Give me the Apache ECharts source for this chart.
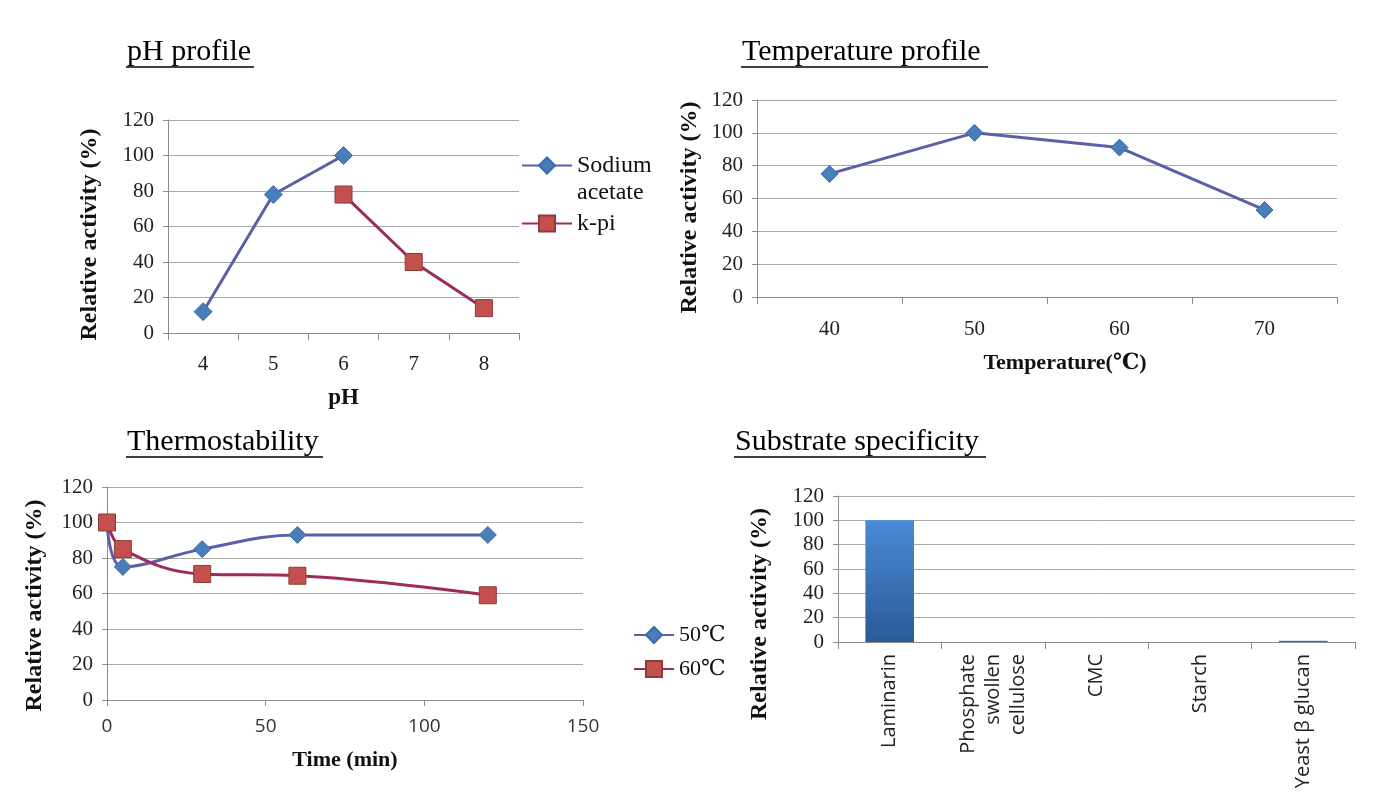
<!DOCTYPE html>
<html>
<head>
<meta charset="utf-8">
<script src="https://cdn.jsdelivr.net/npm/echarts@6/dist/echarts.min.js"></script>
<style>
  html, body { margin: 0; padding: 0; background: #fff; }
  #main { width: 1390px; height: 809px; }
</style>
</head>
<body>
<div id="main"></div>
<script>
// pH profile
var phCategories = ['4', '5', '6', '7', '8'];
var sodiumAcetate = [12, 78, 100, null, null];
var kPi = [null, null, 78, 40, 14];

// Temperature profile
var tempCategories = ['40', '50', '60', '70'];
var tempActivity = [75, 100, 91, 53];

// Thermostability
var thermoTime = [0, 5, 30, 60, 120];
var thermo50 = [100, 75, 85, 93, 93];
var thermo60 = [100, 85, 71, 70, 59];

// Substrate specificity
var substrates = ['Laminarin', 'Phosphate\nswollen\ncellulose', 'CMC', 'Starch', 'Yeast β glucan'];
var substrateActivity = [100, 0, 0, 0, 1];

var yTicks = { min: 0, max: 120, interval: 20 };

(function () {
    var chart = echarts.init(document.getElementById('main'));
    var serif = '"Liberation Serif", "DejaVu Serif", serif';
    var sans = '"Open Sans", "Liberation Sans", sans-serif';
    var blueLine = '#5b5fa6', blueMark = '#4a7ebb';
    var redLine = '#9c2c5c', redMark = '#c4504d';
    var gridColor = '#a8a8a8', axisColor = '#8c8c8c';

    function pairs(xs, ys) {
        var out = [];
        for (var i = 0; i < xs.length; i++) out.push([xs[i], ys[i]]);
        return out;
    }

    // shift: moves the rotated title downward along the axis
    function yAxis(gridIndex, nameGap, shift) {
        return {
            type: 'value', gridIndex: gridIndex,
            min: yTicks.min, max: yTicks.max, interval: yTicks.interval,
            name: 'Relative activity (%)', nameLocation: 'middle', nameGap: nameGap, nameRotate: 90,
            nameTextStyle: {
                fontFamily: serif, fontWeight: 'bold', fontSize: 24, color: '#111',
                padding: [0, shift * 2, 0, 0]
            },
            axisLine: { show: true, lineStyle: { color: axisColor } },
            axisTick: { show: true, length: 5, lineStyle: { color: axisColor } },
            axisLabel: { fontFamily: serif, fontSize: 21, color: '#222', margin: 14 },
            splitLine: { show: true, lineStyle: { color: gridColor, width: 1 } }
        };
    }

    function catAxis(gridIndex, data, extra) {
        var ax = {
            type: 'category', gridIndex: gridIndex, data: data, boundaryGap: true,
            axisLine: { show: true, onZero: false, lineStyle: { color: axisColor } },
            axisTick: { show: true, length: 7, lineStyle: { color: axisColor } },
            axisLabel: { fontFamily: serif, fontSize: 21, color: '#222', margin: 22 },
            splitLine: { show: false }
        };
        for (var k in extra) ax[k] = extra[k];
        return ax;
    }

    var titleStyle = { fontFamily: serif, fontSize: 30, fontWeight: 'normal', color: '#000' };

    function underline(x1, x2, y) {
        return { type: 'line', shape: { x1: x1, y1: y, x2: x2, y2: y }, style: { stroke: '#000', lineWidth: 1.5 } };
    }

    var option = {
        backgroundColor: '#fff',
        animation: false,
        title: [
            { text: 'pH profile', left: 122, top: 32, textStyle: titleStyle },
            { text: 'Temperature profile', left: 737, top: 32, textStyle: titleStyle },
            { text: 'Thermostability', left: 122, top: 422, textStyle: titleStyle },
            { text: 'Substrate specificity', left: 730, top: 422, textStyle: titleStyle }
        ],
        graphic: [
            underline(126, 254, 67),
            underline(741, 988, 67),
            underline(126, 323, 457),
            underline(734, 986, 457)
        ],
        legend: [
            {
                orient: 'vertical', left: 516, top: 120, itemWidth: 50, itemHeight: 20, itemGap: 4,
                textStyle: { fontFamily: serif, fontSize: 24, color: '#111', lineHeight: 27 },
                formatter: function (name) {
                    return name.indexOf(' ') >= 0 ? '\n' + name.replace(' ', '\n') : name;
                },
                data: ['Sodium acetate', 'k-pi']
            },
            {
                orient: 'vertical', left: 628, top: 619, itemWidth: 40, itemHeight: 20, itemGap: 12,
                textStyle: { fontFamily: serif, fontSize: 22, color: '#111' },
                data: ['50℃', '60℃']
            }
        ],
        grid: [
            { left: 168, top: 120, width: 351, height: 213 },
            { left: 757, top: 100, width: 580, height: 197 },
            { left: 107, top: 487, width: 476, height: 213 },
            { left: 838, top: 496, width: 517, height: 146 }
        ],
        xAxis: [
            catAxis(0, phCategories, {
                name: 'pH', nameLocation: 'middle', nameGap: 54,
                nameTextStyle: { fontFamily: serif, fontWeight: 'bold', fontSize: 23, color: '#111' },
                axisLabel: { fontFamily: serif, fontSize: 21, color: '#222', margin: 21 }
            }),
            catAxis(1, tempCategories, {
                name: 'Temperature(℃)', nameLocation: 'middle', nameGap: 55,
                nameTextStyle: { fontFamily: serif, fontWeight: 'bold', fontSize: 22, color: '#111', padding: [0, 0, 0, 36] },
                axisLabel: { fontFamily: serif, fontSize: 21, color: '#222', margin: 22 }
            }),
            {
                type: 'value', gridIndex: 2, min: 0, max: 150, interval: 50,
                name: 'Time (min)', nameLocation: 'middle', nameGap: 49,
                nameTextStyle: { fontFamily: serif, fontWeight: 'bold', fontSize: 22, color: '#111' },
                axisLine: { show: true, onZero: false, lineStyle: { color: axisColor } },
                axisTick: { show: true, length: 6, lineStyle: { color: axisColor } },
                axisLabel: { fontFamily: sans, fontSize: 19, color: '#333', margin: 17 },
                splitLine: { show: false }
            },
            catAxis(3, substrates, {
                axisLabel: { fontFamily: sans, fontSize: 20, color: '#222', rotate: 90, margin: 12, lineHeight: 25, interval: 0 }
            })
        ],
        yAxis: [
            yAxis(0, 66, 8),
            yAxis(1, 55, 9),
            yAxis(2, 60, 12),
            yAxis(3, 66, 45)
        ],
        series: [
            {
                name: 'Sodium acetate', type: 'line', xAxisIndex: 0, yAxisIndex: 0, data: sodiumAcetate,
                symbol: 'diamond', symbolSize: 18,
                lineStyle: { color: blueLine, width: 3 },
                itemStyle: { color: blueMark, borderColor: '#3c6aa8', borderWidth: 1 }
            },
            {
                name: 'k-pi', type: 'line', xAxisIndex: 0, yAxisIndex: 0, data: kPi,
                symbol: 'rect', symbolSize: 17,
                lineStyle: { color: redLine, width: 3 },
                itemStyle: { color: redMark, borderColor: '#8e3a3a', borderWidth: 1 }
            },
            {
                name: 'Temperature', type: 'line', xAxisIndex: 1, yAxisIndex: 1, data: tempActivity,
                symbol: 'diamond', symbolSize: 17,
                lineStyle: { color: blueLine, width: 3 },
                itemStyle: { color: blueMark, borderColor: '#3c6aa8', borderWidth: 1 }
            },
            {
                name: '50℃', type: 'line', xAxisIndex: 2, yAxisIndex: 2, data: pairs(thermoTime, thermo50),
                smooth: 0.4, symbol: 'diamond', symbolSize: 17,
                lineStyle: { color: blueLine, width: 3 },
                itemStyle: { color: blueMark, borderColor: '#3c6aa8', borderWidth: 1 }
            },
            {
                name: '60℃', type: 'line', xAxisIndex: 2, yAxisIndex: 2, data: pairs(thermoTime, thermo60),
                smooth: 0.4, symbol: 'rect', symbolSize: 17,
                lineStyle: { color: redLine, width: 3 },
                itemStyle: { color: redMark, borderColor: '#8e3a3a', borderWidth: 1 }
            },
            {
                name: 'Substrate', type: 'bar', xAxisIndex: 3, yAxisIndex: 3, data: substrateActivity,
                barWidth: '47%',
                itemStyle: {
                    color: new echarts.graphic.LinearGradient(0, 0, 0, 1, [
                        { offset: 0, color: '#4a8ad6' },
                        { offset: 1, color: '#2a5a98' }
                    ])
                }
            }
        ]
    };

    chart.setOption(option, true);
})();
</script>
</body>
</html>
